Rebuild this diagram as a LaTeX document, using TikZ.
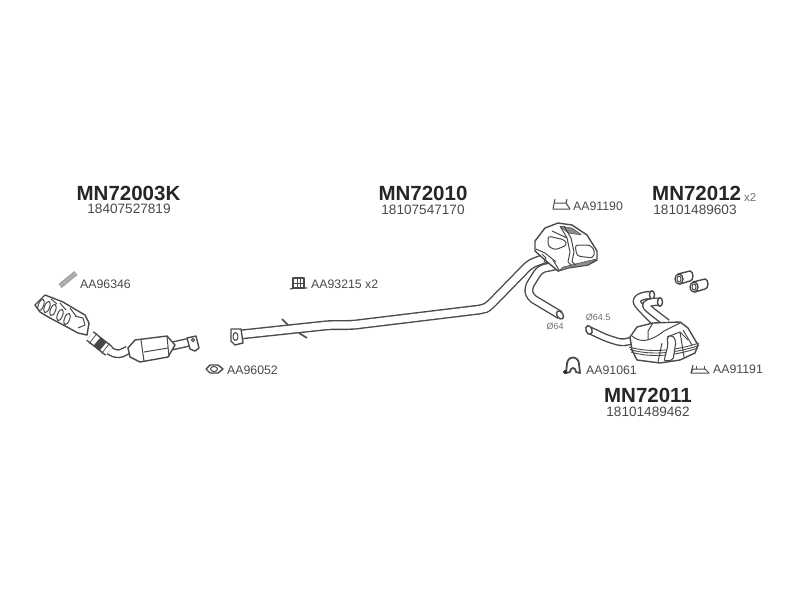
\documentclass[tikz,border=0pt]{standalone}
\usepackage{fontspec}
\setmainfont{Liberation Sans}
\usetikzlibrary{positioning}
\definecolor{mninkdark}{HTML}{262626}
\definecolor{mnink}{HTML}{4A4A4A}
\definecolor{mnshade}{HTML}{8C8C8C}
\definecolor{mnlight}{HTML}{DADADA}
\tikzset{
  partno/.style={font=\fontsize{20.5}{22}\selectfont\bfseries,text=mninkdark,inner sep=0pt},
  refno/.style={font=\fontsize{13.6}{15}\selectfont,text=mnink,inner sep=0pt},
  itemno/.style={font=\fontsize{12.3}{14}\selectfont,text=mnink,inner sep=0pt},
  sizeno/.style={font=\fontsize{9}{10}\selectfont,text=mnshade!80!black,inner sep=0pt},
  shell/.style={draw=mnink,fill=white,line width=1.4pt,line join=round},
  detail/.style={draw=mnink,line width=1pt,line join=round},
  shade/.style={fill=mnshade,draw=mnink,line width=0.5pt}
}
% pipe: a dark stroke with a white one on top
\newcommand{\mntube}[2]{%
  \draw[mnink,line width=#1pt,rounded corners=5pt,line cap=butt,line join=round] #2;
  \draw[white,line width=#1pt-2.8pt,rounded corners=5pt,line cap=butt,line join=round] #2;
}
\begin{document}
\begin{tikzpicture}[x=1pt,y=-1pt]
  \useasboundingbox (0,0) rectangle (800,600);
  \fill[white] (0,0) rectangle (800,600);

  % ---- Part numbers -----------------------------------
  \node[partno] (catno) at (128.5,193) {MN72003K};
  \node[refno] (catref) at (129,209) {18407527819};
  \node[partno] (midno) at (423,193) {MN72010};
  \node[refno] (midref) at (423,209.5) {18107547170};
  \node[partno,anchor=west] (sleeveno) at (652,193) {MN72012};
  \node[sizeno,font=\fontsize{11.5}{12}\selectfont,anchor=west] (sleevex) at (744,197) {x2};
  \node[refno] (sleeveref) at (695,209.5) {18101489603};
  \node[partno] (rearno) at (648,395.5) {MN72011};
  \node[refno] (rearref) at (648,412) {18101489462};

  % ---- Small item labels -------------------------------
  \node[itemno,anchor=west] (studlab) at (80,284) {AA96346};
  \node[itemno,anchor=west] (clamplab) at (311,284) {AA93215 x2};
  \node[itemno,anchor=west] (gasketlab) at (227,370) {AA96052};
  \node[itemno,anchor=west] (hangerlab) at (573,206) {AA91190};
  \node[itemno,anchor=west] (ringlab) at (586,370) {AA91061};
  \node[itemno,anchor=west] (strapLab) at (713,369) {AA91191};
  \node[sizeno] (bigbore) at (555,326) {Ø64};
  \node[sizeno] (smallbore) at (598,317) {Ø64.5};

  % ---- Stud AA96346 ------------------------------------
  \draw[mnshade!80,line width=5pt] (60,286) -- (76,273);
  \draw[white,line width=0.5pt,dash pattern=on 1pt off 1.5pt] (60,286) -- (76,273);

  % ---- Manifold ----------------------------------------
  \filldraw[shell] (35,305) -- (45,295) -- (63,302) -- (73,308) -- (85,315) -- (89,323)
    -- (87,335) -- (78,333) -- (67,327) -- (50,318) -- (40,312) -- cycle;
  \foreach \px/\py in {41/305,47/307,53/310,60/315,67/319}
    \draw[detail,fill=white,rotate around={-20:(\px,\py)}] (\px,\py) ellipse (2.6pt and 6pt);
  \foreach \px/\py/\qx/\qy in {51/299/57/304,60/303/66/310,70/308/76/316}
    \draw[detail] (\px,\py) -- (\qx,\qy);
  \draw[detail] (75,316) -- (83,318) -- (85,325) -- (78,328);

  % ---- Flex section and inlet of the catalyst ---------------
  \mntube{9}{(106,349) -- (118,355) -- (128,350)}
  \draw[mnink,line width=12pt] (90,336) -- (109,351);
  \draw[white,line width=9pt] (90,336) -- (109,351);
  \draw[mninkdark!85,line width=11pt] (97,341.5) -- (103,346.5);
  \foreach \px/\py in {93/338.5,105.5/348.5}
    \draw[mnink,line width=0.7pt] (\px-4,\py+5) -- (\px+4,\py-5);

  % ---- Catalyst ----------------------------------------
  \mntube{9}{(172,346) -- (190,342)}
  \filldraw[shell] (128,348) -- (135,340) -- (167,336) -- (175,345) -- (168,357)
    -- (140,362) -- (130,357) -- cycle;
  \draw[detail] (141,340) -- (144,361);
  \draw[detail] (167,336) -- (169,357);
  \draw[detail] (144,352) -- (168,348);
  \filldraw[shell] (187,338) -- (196,336) -- (199,348) -- (195,351) -- (190,349) -- cycle;
  \draw[detail] (193,340) circle (1.6pt);

  % ---- Gasket AA96052 ----------------------------------
  \draw[shell] (206,369) -- (210,365) -- (218,365) -- (223,369) -- (218,373) -- (210,373) -- cycle;
  \draw[detail] (214,369) ellipse (3.5pt and 2.5pt);

  % ---- Clamp AA93215 -----------------------------------
  \draw[detail,line width=1.2pt] (293,278) rectangle (304,288);
  \draw[detail] (297,278) -- (297,288) (300,278) -- (300,288) (293,283) -- (304,283);
  \draw[detail,line width=1.2pt] (290,289) -- (296,288) (304,288) -- (307,288);

  % ---- Intermediate pipe ---------------------------------
  \draw[detail,line width=1.6pt] (282,319) -- (289,326);
  \draw[detail,line width=1.6pt] (299,333) -- (307,338);
  \mntube{10}{(236,335) -- (330,325) -- (352,325) -- (484,309) -- (489,306) -- (530,264) -- (546,258)}
  \mntube{9}{(555,266) -- (540,269) -- (528,288) -- (530,297) -- (560,315)}
  \draw[shell,rotate around={-55:(560,315)}] (560,315) ellipse (4.5pt and 3pt);
  % Flange
  \filldraw[shell] (231,329) -- (241,329) -- (243,343) -- (235,345) -- (231,341) -- cycle;
  \draw[detail] (235.5,336.5) ellipse (2.5pt and 4pt);

  % ---- Middle silencer -----------------------------------
  \filldraw[shell] (535,241) -- (545,228) -- (558,223) -- (572,225) -- (587,235) -- (597,251)
    -- (597,260) -- (588,265) -- (568,268) -- (558,271) -- (545,260) -- (535,251) -- cycle;
  \filldraw[shade,rounded corners=1pt] (560,226) -- (572,228) -- (582,235) -- (568,233) -- cycle;
  \filldraw[shade] (563,267) -- (596,259) -- (588,265) -- (568,268) -- (559,271) -- cycle;
  \draw[detail,rounded corners=3pt] (548,236) -- (565,240) -- (567,245) -- (555,250) -- (548,246) -- cycle;
  \draw[detail,rounded corners=3pt] (575,245) -- (590,245) -- (595,251) -- (593,258) -- (577,256) -- cycle;
  \draw[detail] (560,226) -- (567,238) -- (570,252) -- (568,262) -- (572,266);
  \draw[detail] (564,226) -- (571,238) -- (574,252) -- (572,262) -- (576,265);
  \draw[detail] (552,231) -- (567,238);
  \draw[detail] (536,249) -- (545,253) -- (556,262);
  \draw[detail] (542,254) -- (546,258) -- (544,262);
  \draw[detail] (553,260) -- (559,270);

  % ---- Hanger AA91190 ------------------------------------
  \draw[detail] (555,199) -- (553,209) -- (570,209);
  \draw[detail] (555,203) -- (566,203) -- (570,209);
  \draw[detail] (566,203) -- (567,199);

  % ---- Sleeves MN72012 ----------------------------------
  \foreach \ax/\ay/\bx/\by in {679/279/690/276,694/287/705/284}{
    \filldraw[shell] (\ax-1,\ay-5) -- (\bx,\by-5) arc (90:-90:3pt and 5pt) -- (\ax+1,\ay+5) -- cycle;
    \draw[shell] (\ax,\ay) ellipse (4pt and 5pt);
    \draw[detail] (\ax,\ay) ellipse (2pt and 3pt);
  }

  % ---- Rear silencer ------------------------------------
  \mntube{8}{(589,330) -- (606,338) -- (622,343) -- (634,340)}
  \draw[shell,rotate around={20:(589,330)}] (589,330) ellipse (3pt and 4.5pt);
  \mntube{8.5}{(652,295) .. controls (641,295) and (634,299) .. (641,308) -- (658,325)}
  \draw[shell] (652,295) ellipse (2.5pt and 4.25pt);
  \mntube{8.5}{(660,302) .. controls (651,301) and (644,304) .. (650,310) -- (667,323)}
  \draw[shell] (660,302) ellipse (2.5pt and 4.25pt);
  \filldraw[shell] (630,337) -- (637,327) -- (653,323) -- (680,322) -- (688,328) -- (698,345)
    -- (695,353) -- (680,360) -- (660,363) -- (637,360) -- (632,350) -- cycle;
  \draw[detail] (632,336) .. controls (640,343) and (650,342) .. (664,331) -- (680,323);
  \draw[detail] (653,323) -- (648,331) -- (648,340);
  \draw[detail,line width=0.9pt] (629,347) .. controls (650,353) and (675,351) .. (699,343);
  \draw[detail,line width=0.9pt] (630,349.5) .. controls (650,355.5) and (675,353.5) .. (699,345.5);
  \draw[detail,line width=0.9pt] (631,352) .. controls (650,358) and (675,356) .. (698,348);
  \draw[detail] (662,343) -- (658,362);
  \draw[shell,line width=1.1pt,rounded corners=2pt] (667,337) -- (672,335) -- (676,341) -- (673,360) -- (664,361) -- (668,345) -- cycle;
  \draw[detail] (667,337) -- (680,332) -- (684,357);
  \draw[detail] (680,332) -- (688,340);
  \draw[detail] (683,330) -- (692,345);

  % ---- Ring AA91061 --------------------------------------
  \filldraw[shell,line width=1.8pt] (566,373) -- (567,364) arc (180:0:6pt and 6.5pt) -- (580,373) -- (576,372)
    arc (0:180:3pt and 4pt) -- (570,372) -- cycle;
  \filldraw[mninkdark] (565,372) circle (1.8pt);

  % ---- Strap AA91191 -------------------------------------
  \draw[detail] (693,365) -- (691,373) -- (709,373);
  \draw[detail] (691,373) -- (693,369) -- (705,369) -- (709,373);
  \draw[detail] (696,369) -- (696,366) (704,369) -- (704,366);
\end{tikzpicture}
\end{document}
